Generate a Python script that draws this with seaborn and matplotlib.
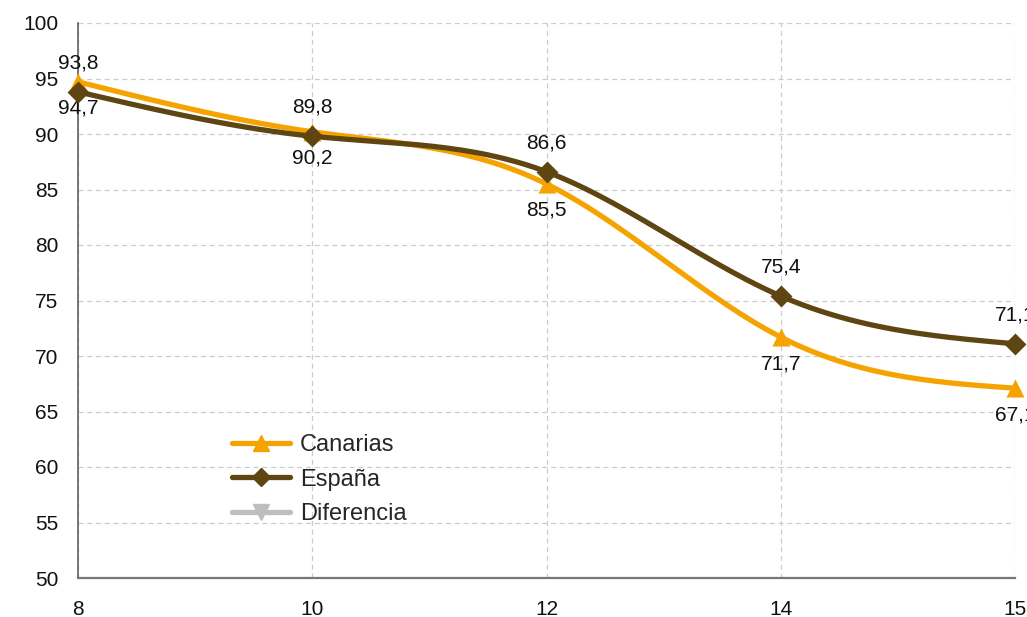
import numpy as np
import pandas as pd
import matplotlib
matplotlib.use("Agg")
import matplotlib.pyplot as plt
import seaborn as sns
from matplotlib.lines import Line2D

categories = ["8", "10", "12", "14", "15"]
canarias = [94.7, 90.2, 85.5, 71.7, 67.1]
espana = [93.8, 89.8, 86.6, 75.4, 71.1]
yticks = list(range(50, 101, 5))

C_CAN = "#F5A300"
C_ESP = "#5E4512"
C_DIF = "#BEBEBE"


def natural_spline(x, y, n=200):
    x = np.asarray(x, float); y = np.asarray(y, float)
    k = len(x); h = np.diff(x)
    A = np.zeros((k, k)); b = np.zeros(k)
    A[0, 0] = A[-1, -1] = 1
    for i in range(1, k - 1):
        A[i, i - 1] = h[i - 1]; A[i, i] = 2 * (h[i - 1] + h[i]); A[i, i + 1] = h[i]
        b[i] = 3 * ((y[i + 1] - y[i]) / h[i] - (y[i] - y[i - 1]) / h[i - 1])
    c = np.linalg.solve(A, b)
    xs = np.linspace(x[0], x[-1], n); ys = np.empty_like(xs)
    for j, xv in enumerate(xs):
        i = min(np.searchsorted(x, xv, side="right") - 1, k - 2)
        d = xv - x[i]
        bb = (y[i + 1] - y[i]) / h[i] - h[i] * (2 * c[i] + c[i + 1]) / 3
        dd = (c[i + 1] - c[i]) / (3 * h[i])
        ys[j] = y[i] + bb * d + c[i] * d ** 2 + dd * d ** 3
    return xs, ys


sns.set_theme(style="white")
plt.rcParams["font.family"] = ["Liberation Sans", "DejaVu Sans"]

fig = plt.figure(figsize=(10.27, 6.17), dpi=100)
ax = fig.add_axes([78 / 1027, 1 - 578 / 617, (1015 - 78) / 1027, (578 - 23) / 617])

idx = np.arange(len(categories))
for vals, color, marker, ms in [(canarias, C_CAN, "^", 170), (espana, C_ESP, "D", 125)]:
    xs, ys = natural_spline(idx, vals)
    sns.lineplot(x=xs, y=ys, ax=ax, color=color, linewidth=3.8, sort=False, zorder=3)
    sns.scatterplot(x=idx, y=vals, ax=ax, color=color, marker=marker, s=ms,
                    edgecolor=color, linewidth=0, zorder=4, clip_on=False)

for i in idx:
    ax.annotate(f"{espana[i]:.1f}".replace(".", ","), (i, espana[i]), xytext=(0, 21),
                textcoords="offset points", ha="center", va="center", fontsize=15,
                color="#111111", annotation_clip=False)
    ax.annotate(f"{canarias[i]:.1f}".replace(".", ","), (i, canarias[i]), xytext=(0, -19),
                textcoords="offset points", ha="center", va="center", fontsize=15,
                color="#111111", annotation_clip=False)

ax.set_xlim(0, len(categories) - 1)
ax.set_ylim(50, 100)
ax.set_xticks(idx)
ax.set_xticklabels(categories)
ax.set_yticks(yticks)
ax.tick_params(axis="y", labelsize=15, labelcolor="#111111", direction="out", length=8,
               width=1, pad=6, color="#555555")
ax.tick_params(axis="x", labelsize=15, labelcolor="#111111", direction="out", length=7,
               width=1, pad=9, color="#555555")
ax.grid(True, linestyle=(0, (4, 3)), color="#CCCCCC", linewidth=0.9)
for s in ["top", "right"]:
    ax.spines[s].set_visible(False)
ax.spines["left"].set_color("#666666")
ax.spines["bottom"].set_color("#777777")
ax.spines["bottom"].set_linewidth(1.6)

handles = [
    Line2D([], [], color=C_CAN, lw=3.8, marker="^", ms=12, markevery=[1]),
    Line2D([], [], color=C_ESP, lw=3.8, marker="D", ms=9, markevery=[1]),
    Line2D([], [], color=C_DIF, lw=3.8, marker="v", ms=12, markevery=[1]),
]
for h in handles:
    h.set_data([0, 1, 2], [0, 0, 0])
ax.legend(handles, ["Canarias", "España", "Diferencia"], loc="upper left",
          bbox_to_anchor=(0.164, 0.259), frameon=False, fontsize=17,
          handlelength=2.45, handletextpad=0.45, labelspacing=0.52, borderaxespad=0,
          borderpad=0)

fig.savefig("out.png", dpi=100)
